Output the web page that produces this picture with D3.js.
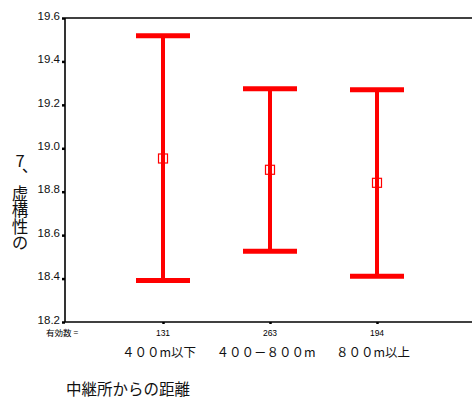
<!DOCTYPE html>
<html><head><meta charset="utf-8">
<script src="https://cdn.jsdelivr.net/npm/d3@7"></script>
<style>body{margin:0;background:#fff}svg{display:block}</style>
</head><body>
<svg id="c" width="472" height="399"></svg>
<script>
const categories = ["４００m以下", "４００－８００m", "８００m以上"];
const counts = [131, 263, 194];
const means = [18.953, 18.901, 18.841];
const lower = [18.391, 18.526, 18.411];
const upper = [19.518, 19.274, 19.270];
const yTicks = [18.2, 18.4, 18.6, 18.8, 19.0, 19.2, 19.4, 19.6];
const yTitle = "7、虚構性の";
const xTitle = "中継所からの距離";
const nLabel = "有効数 =";

(function () {
const svg = d3.select("#c");
const pLeft = 65, pTop = 18, pBottom = 322, pRight = 472;
const font = "Liberation Sans, Arial, sans-serif";
const jfont = "Noto Sans CJK JP, sans-serif";

const y = d3.scaleLinear().domain([18.2, 19.6]).range([pBottom, pTop]);
const x = d3.scalePoint().domain(categories).range([163, 377]);

// frame
const frame = svg.append("g").attr("stroke", "#000").attr("stroke-width", 1.6).attr("fill", "none");
frame.append("line").attr("x1", pLeft).attr("x2", pRight + 5).attr("y1", pTop).attr("y2", pTop);
frame.append("line").attr("x1", pLeft).attr("x2", pRight + 5).attr("y1", pBottom).attr("y2", pBottom);
frame.append("line").attr("x1", pLeft).attr("x2", pLeft).attr("y1", pTop).attr("y2", pBottom);

// y axis
const yAxis = d3.axisLeft(y).tickValues(yTicks).tickFormat(d3.format(".1f")).tickSize(3).tickPadding(2);
const ga = svg.append("g").attr("transform", `translate(${pLeft},0)`).call(yAxis);
ga.select(".domain").remove();
ga.selectAll(".tick line").attr("stroke", "#000").attr("stroke-width", 2.5);
ga.selectAll(".tick text").attr("font-family", font).attr("font-size", 11.5).attr("fill", "#111").attr("dy", "0.1em");

// x axis ticks
const xAxis = d3.axisBottom(x).tickSize(2).tickFormat("");
const gx = svg.append("g").attr("transform", `translate(0,${pBottom})`).call(xAxis);
gx.select(".domain").remove();
gx.selectAll(".tick line").attr("stroke", "#000").attr("stroke-width", 2.5);

// counts
svg.append("text").attr("x", 46).attr("y", 336).attr("font-family", jfont).attr("font-size", 8.5).text(nLabel);
svg.selectAll(".cnt").data(counts).enter().append("text")
  .attr("x", (d, i) => x(categories[i])).attr("y", 336)
  .attr("text-anchor", "middle").attr("font-family", font).attr("font-size", 8.5).text(d => d);

// category labels
svg.selectAll(".cat").data(categories).enter().append("text")
  .attr("x", d => x(d) - 4).attr("y", 357)
  .attr("text-anchor", "middle").attr("font-family", jfont).attr("font-size", 12.5)
  .attr("fill", "#111").text(d => d);

// x title
svg.append("text").attr("x", 66).attr("y", 395).attr("font-family", jfont).attr("font-size", 15.5).attr("fill", "#111").text(xTitle);

// y title (vertical)
svg.append("text").attr("x", 20).attr("y", 152)
  .attr("font-family", jfont).attr("font-size", 16.5).attr("fill", "#111")
  .style("writing-mode", "vertical-rl").style("text-orientation", "upright")
  .text(yTitle);

// error bars
const red = "#ff0000";
const eb = svg.append("g");
categories.forEach((c, i) => {
  const cx = x(c);
  const g = eb.append("g").attr("stroke", red);
  g.append("line").attr("x1", cx).attr("x2", cx).attr("y1", y(upper[i])).attr("y2", y(lower[i])).attr("stroke-width", 4);
  g.append("line").attr("x1", cx + 1).attr("x2", cx + 1).attr("y1", y(upper[i])).attr("y2", y(lower[i])).attr("stroke-width", 1).attr("stroke-opacity", 0.6);
  [upper[i], lower[i]].forEach(v => {
    g.append("line").attr("x1", cx - 27).attr("x2", cx + 27).attr("y1", y(v)).attr("y2", y(v)).attr("stroke-width", 5);
    g.append("line").attr("x1", cx - 27).attr("x2", cx + 27).attr("y1", y(v) - 1).attr("y2", y(v) + 1).attr("stroke-width", 1).attr("stroke-opacity", 0.5);
  });
  g.append("rect").attr("x", cx - 4.5).attr("y", y(means[i]) - 4.5).attr("width", 9).attr("height", 9)
    .attr("fill", "none").attr("stroke-width", 1.2);
});
})();
</script>
</body></html>
